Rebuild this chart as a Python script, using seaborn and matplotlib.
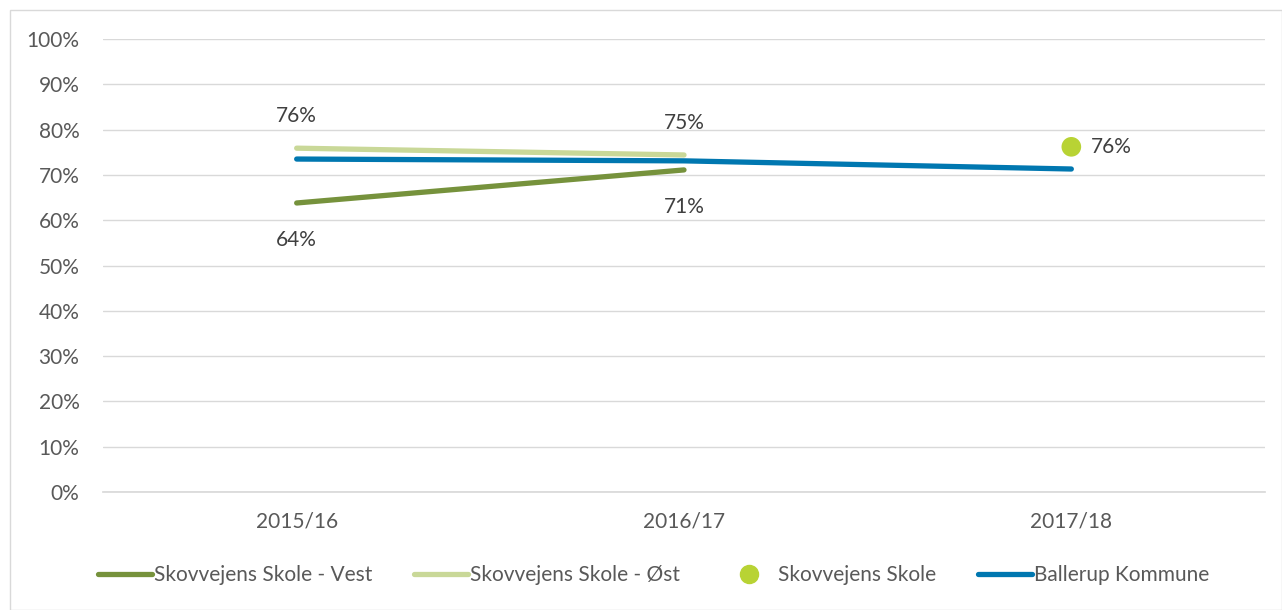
import pandas as pd
import matplotlib.pyplot as plt
import seaborn as sns
from matplotlib.lines import Line2D
from matplotlib.patches import Rectangle

# Data
years = ['2015/16', '2016/17', '2017/18']
vest = [63.8, 71.1]
oest = [75.9, 74.4]
skole = [76.2]
ballerup = [73.5, 73.1, 71.3]

vest_labels = ['64%', '71%']
oest_labels = ['76%', '75%']
skole_labels = ['76%']

c_vest = '#76923C'
c_oest = '#C9D898'
c_skole = '#B8D334'
c_ballerup = '#0077B0'

FS = 15

sns.set_theme(style='white')
plt.rcParams['font.family'] = ['Lato', 'DejaVu Sans']

fig = plt.figure(figsize=(12.82, 6.10), dpi=100)
ax = fig.add_axes([103 / 1282, 1 - 492 / 610, (1265 - 103) / 1282, (492 - 39) / 610])

# outer chart border
fig.patches.append(Rectangle((10 / 1282, 0), 1 - 10 / 1282, 1 - 10 / 610,
                             transform=fig.transFigure, fill=False,
                             edgecolor='#D9D9D9', linewidth=1))

df_vest = pd.DataFrame({'year': years[:2], 'value': vest})
df_oest = pd.DataFrame({'year': years[:2], 'value': oest})
df_skole = pd.DataFrame({'year': years[2:], 'value': skole})
df_ball = pd.DataFrame({'year': years, 'value': ballerup})

# make sure category order is fixed
ax.plot(years, [None] * 3, alpha=0)

sns.lineplot(data=df_vest, x='year', y='value', ax=ax, color=c_vest,
             linewidth=3.8, solid_capstyle='round', sort=False)
sns.lineplot(data=df_oest, x='year', y='value', ax=ax, color=c_oest,
             linewidth=3.8, solid_capstyle='round', sort=False)
sns.scatterplot(data=df_skole, x='year', y='value', ax=ax, color=c_skole,
                s=200, edgecolor='none', zorder=5)
sns.lineplot(data=df_ball, x='year', y='value', ax=ax, color=c_ballerup,
             linewidth=3.8, solid_capstyle='round', sort=False)

# data labels
for i, (v, t) in enumerate(zip(vest, vest_labels)):
    ax.annotate(t, (i, v), xytext=(0, -27), textcoords='offset points',
                ha='center', va='center', fontsize=FS, color='#404040')
for i, (v, t) in enumerate(zip(oest, oest_labels)):
    ax.annotate(t, (i, v), xytext=(0, 23), textcoords='offset points',
                ha='center', va='center', fontsize=FS, color='#404040')
for v, t in zip(skole, skole_labels):
    ax.annotate(t, (2, v), xytext=(14, 0), textcoords='offset points',
                ha='left', va='center', fontsize=FS, color='#404040')

ax.set_xlim(-0.5, 2.5)
ax.set_ylim(0, 100)
ax.set_yticks(range(0, 101, 10))
ax.set_yticklabels([f'{t}%' for t in range(0, 101, 10)])
ax.set_xlabel('')
ax.set_ylabel('')
ax.grid(axis='y', color='#D9D9D9', linewidth=1)
ax.set_axisbelow(True)
for side in ['top', 'left', 'right']:
    ax.spines[side].set_visible(False)
ax.spines['bottom'].set_color('#D9D9D9')
ax.tick_params(axis='both', length=0, labelsize=FS, colors='#595959')
ax.tick_params(axis='x', pad=14)
ax.tick_params(axis='y', pad=17)

handles = [
    Line2D([], [], color=c_vest, linewidth=3.8, solid_capstyle='round'),
    Line2D([], [], color=c_oest, linewidth=3.8, solid_capstyle='round'),
    Line2D([], [], color=c_skole, marker='o', markersize=13, linestyle='none'),
    Line2D([], [], color=c_ballerup, linewidth=3.8, solid_capstyle='round'),
]
names = ['Skovvejens Skole - Vest', 'Skovvejens Skole - Øst',
         'Skovvejens Skole', 'Ballerup Kommune']
fig.legend(handles, names, loc='center', bbox_to_anchor=(0.51, 1 - 575 / 610),
           ncol=4, frameon=False, fontsize=FS, handlelength=2.6,
           handletextpad=0.1, columnspacing=2.0, labelcolor='#595959')

fig.savefig('out.png', dpi=100)
